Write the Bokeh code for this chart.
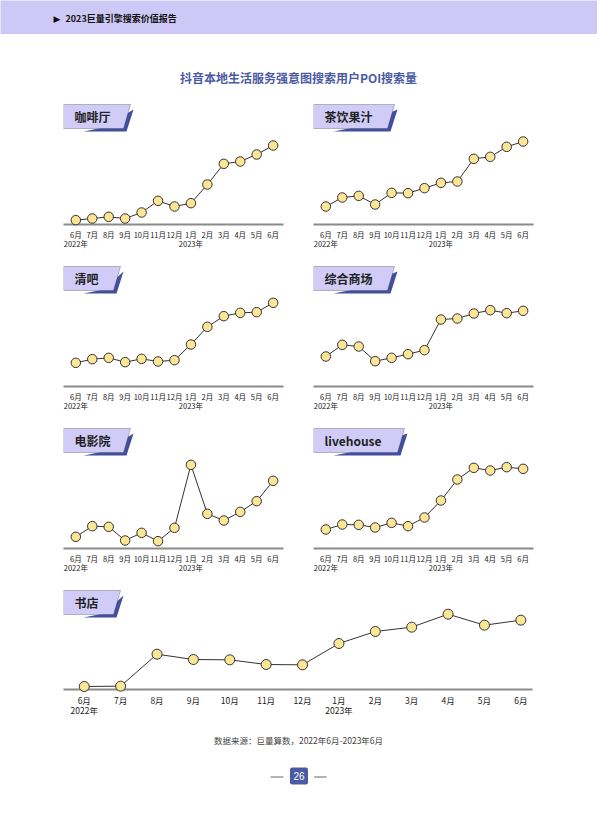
from bokeh.plotting import figure
from bokeh.models import Range1d, FixedTicker, Label, PolyAnnotation, BoxAnnotation
from bokeh.layouts import column, row
from bokeh.embed import file_html
from bokeh.resources import INLINE

# ---------------- data ----------------
months = ["6月", "7月", "8月", "9月", "10月", "11月", "12月",
          "1月", "2月", "3月", "4月", "5月", "6月"]
year_labels = ["2022年", "2023年"]
year_at = [0, 7]

cafe = [13, 18, 23, 18, 36, 71, 54, 64, 120, 182, 189, 210, 237]
tea_juice = [54, 81, 86, 60, 95, 94, 109, 125, 129, 197, 203, 233, 249]
bar = [71, 82, 86, 73, 83, 75, 79, 126, 179, 211, 221, 223, 251]
mall = [90, 125, 120, 76, 86, 97, 109, 201, 204, 219, 229, 220, 227]
cinema = [35, 67, 65, 24, 47, 22, 62, 251, 104, 84, 110, 142, 203]
livehouse = [57, 72, 71, 63, 77, 67, 93, 144, 207, 242, 234, 244, 239]
bookstore = [9, 10, 106, 90, 89, 75, 74, 138, 174, 187, 226, 193, 208]

panel_names = ["咖啡厅", "茶饮果汁", "清吧", "综合商场", "电影院", "livehouse", "书店"]

header_text = "2023巨量引擎搜索价值报告"
main_title = "抖音本地生活服务强意图搜索用户POI搜索量"
source_text = "数据来源：巨量算数，2022年6月-2023年6月"
page_no = "26"

# ---------------- styles ----------------
FONT = "Noto Sans CJK SC"
HEADER_BG = "#cdc8f5"
TITLE_COLOR = "#4a5aa3"
BOX_FILL = "#d0ccf7"
SHADOW = "#414f9e"
POINT_FILL = "#fde596"
LINE_COLOR = "#333333"
AXIS_COLOR = "#8a8a8a"
PAGE_W = 597


def blank(width, height, bg="white"):
    p = figure(width=width, height=height, output_backend="svg", toolbar_location=None,
               x_range=Range1d(0, 1), y_range=Range1d(0, 1), min_border=0,
               frame_align=False,
               outline_line_color=None, x_axis_location=None, y_axis_location=None,
               background_fill_color=bg, border_fill_color=bg)
    p.grid.visible = False
    return p


def panel(name, values, frame_w, left, right, frame_h, bottom, box_w,
          xr, label_size, point_size):
    p = figure(frame_width=frame_w, frame_height=frame_h, output_backend="svg",
               toolbar_location=None, min_border_left=left, min_border_right=right,
               min_border_top=0, min_border_bottom=bottom, frame_align=False,
               x_range=Range1d(*xr), y_range=Range1d(0, frame_h * 3),
               y_axis_location=None, outline_line_color=None,
               background_fill_color="white", border_fill_color="white")
    p.grid.visible = False
    xs = list(range(len(months)))
    r1 = p.line(xs, values, line_color=LINE_COLOR, line_width=1)
    r2 = p.scatter(xs, values, size=point_size, fill_color=POINT_FILL,
                   line_color=LINE_COLOR, line_width=1)
    r1.level = "overlay"
    r2.level = "overlay"

    ax = p.xaxis[0]
    ax.ticker = FixedTicker(ticks=xs)
    overrides = {i: m for i, m in enumerate(months)}
    for i, y in zip(year_at, year_labels):
        overrides[i] = months[i] + "\n" + y
    ax.major_label_overrides = overrides
    ax.axis_line_color = AXIS_COLOR
    ax.axis_line_width = 2
    ax.major_tick_line_color = None
    ax.minor_tick_line_color = None
    ax.major_tick_out = 0
    ax.major_tick_in = 0
    ax.minor_tick_out = 0
    ax.minor_tick_in = 0
    ax.major_label_standoff = 4
    ax.major_label_text_font = FONT
    ax.major_label_text_font_size = label_size
    ax.major_label_text_line_height = 0.9
    ax.major_label_text_color = "#1a1a1a"

    top = frame_h - 7
    bot = top - 24
    shadow = PolyAnnotation(xs=[box_w + 3, box_w - 4, 20, 40],
                            ys=[top - 5, bot - 3, bot - 3, bot + 1],
                            xs_units="screen", ys_units="screen",
                            fill_color=SHADOW, fill_alpha=1, line_color=None)
    box = PolyAnnotation(xs=[0, box_w, box_w - 7, 0], ys=[top, top, bot, bot],
                         xs_units="screen", ys_units="screen",
                         fill_color=BOX_FILL, fill_alpha=1,
                         line_color="#333333", line_width=1)
    p.add_layout(shadow)
    p.add_layout(box)
    p.add_layout(Label(x=11, y=(top + bot) / 2, x_units="screen", y_units="screen",
                       text=name, text_baseline="middle", text_font=FONT,
                       text_font_size="12px", text_font_style="bold",
                       text_color="#222222"))
    return p


# header band
header = blank(PAGE_W, 34, HEADER_BG)
header.add_layout(Label(x=53, y=16, x_units="screen", y_units="screen", text="▶",
                        text_baseline="middle", text_font="DejaVu Sans",
                        text_font_size="9px", text_color="#111111"))
header.add_layout(Label(x=65, y=16, x_units="screen", y_units="screen", text=header_text,
                        text_baseline="middle", text_font=FONT, text_font_size="9px",
                        text_font_style="bold", text_color="#111111"))

# main title
title_fig = blank(PAGE_W, 63)
title_fig.add_layout(Label(x=298, y=20, x_units="screen", y_units="screen", text=main_title,
                           text_align="center", text_baseline="middle", text_font=FONT,
                           text_font_size="12px", text_font_style="bold",
                           text_color=TITLE_COLOR))

XR_SMALL = (-0.75, 12.63)
series = [cafe, tea_juice, bar, mall, cinema, livehouse]
box_ws = [67, 81, 57, 81, 67, 91]
rows = []
for k in range(3):
    lp = panel(panel_names[2 * k], series[2 * k], 220, 63, 17, 127, 35,
               box_ws[2 * k], XR_SMALL, "7.5px", 9.5)
    rp = panel(panel_names[2 * k + 1], series[2 * k + 1], 220, 13, 64, 127, 35,
               box_ws[2 * k + 1], XR_SMALL, "7.5px", 9.5)
    rows.append(row(lp, rp, spacing=0))

book = panel(panel_names[6], bookstore, 469, 63, 65, 106, 28, 57,
             (-0.57, 12.32), "8.5px", 10)

# footer
footer = blank(PAGE_W, 88)
footer.add_layout(Label(x=298, y=67.5, x_units="screen", y_units="screen", text=source_text,
                        text_align="center", text_baseline="middle", text_font=FONT,
                        text_font_size="8.5px", text_color="#444444"))
footer.add_layout(BoxAnnotation(left=289.5, right=307.5, bottom=23, top=40,
                                left_units="screen", right_units="screen",
                                bottom_units="screen", top_units="screen",
                                fill_color=TITLE_COLOR, fill_alpha=1, line_color=None,
                                border_radius=2))
footer.add_layout(Label(x=298.5, y=31.5, x_units="screen", y_units="screen", text=page_no,
                        text_align="center", text_baseline="middle", text_font="Liberation Sans",
                        text_font_size="10px", text_color="white"))
for l, r in [(270, 283), (313.7, 326)]:
    footer.add_layout(BoxAnnotation(left=l, right=r, bottom=30, top=31,
                                    left_units="screen", right_units="screen",
                                    bottom_units="screen", top_units="screen",
                                    fill_color="#666666", fill_alpha=1, line_color=None))

page = column(header, title_fig, *rows, book, footer, spacing=0)

open("out.html", "w").write(file_html(page, INLINE))
